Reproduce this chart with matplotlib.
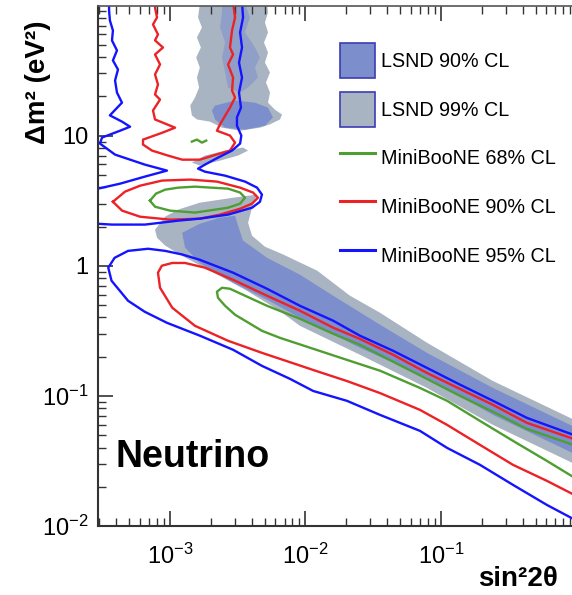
import numpy as np
import matplotlib
matplotlib.use("Agg")
import matplotlib.pyplot as plt
from matplotlib.patches import Patch
from matplotlib.lines import Line2D
from matplotlib.ticker import LogLocator, FuncFormatter, NullFormatter

plt.rcParams['font.family'] = ['Liberation Sans', 'DejaVu Sans']
plt.rcParams['mathtext.fontset'] = 'custom'
plt.rcParams['mathtext.rm'] = 'Liberation Sans'
plt.rcParams['mathtext.default'] = 'regular'

# colours
c_lsnd90 = '#7d8ecd'
c_lsnd99 = '#a9b4c2'
c_green = '#4f9e32'
c_red = '#ec2226'
c_blue = '#1414ff'

# ---- LSND allowed regions (sin^2 2theta, dm^2) ----
# 99% CL main band
lsnd99_band_x = [7.75e-4, 9.19e-4, 1.15e-3, 1.66e-3, 2.92e-3, 4.39e-3, 4.03e-3, 3.77e-3,
                 4.03e-3, 5.02e-3, 6.83e-3, 1.22e-2, 2.13e-2, 3.55e-2, 7.88e-2, 0.242, 1.0,
                 1.0, 0.242, 0.0788, 0.0252, 9.10e-3, 6.27e-3, 3.58e-3, 2.04e-3, 1.23e-3,
                 9.19e-4, 8.02e-4]
lsnd99_band_y = [1.89, 2.38, 2.70, 3.05, 3.33, 3.52, 2.79, 2.14,
                 1.70, 1.40, 1.22, 0.916, 0.588, 0.435, 0.256, 0.130, 0.0642,
                 0.0295, 0.0598, 0.115, 0.207, 0.345, 0.459, 0.654, 0.899, 1.19,
                 1.43, 1.64]
# 99% CL high dm^2 island
lsnd99_top_x = [1.66e-3, 1.61e-3, 1.72e-3, 1.58e-3, 1.69e-3, 1.56e-3, 1.66e-3, 1.58e-3,
                1.64e-3, 1.53e-3, 1.41e-3, 1.45e-3, 1.58e-3, 1.97e-3, 2.42e-3, 3.29e-3,
                4.61e-3, 5.47e-3, 6.48e-3, 6.72e-3, 5.95e-3, 5.29e-3, 5.47e-3, 5.11e-3,
                5.47e-3, 5.02e-3, 5.29e-3, 4.94e-3, 5.29e-3, 5.02e-3, 5.29e-3, 5.20e-3]
lsnd99_top_y = [102, 80.9, 67.7, 56.7, 47.5, 39.8, 33.3, 27.9,
                23.4, 19.6, 17.0, 14.3, 13.3, 12.8, 11.5, 10.9,
                11.5, 12.2, 13.3, 14.5, 15.8, 17.9, 21.4, 25.6,
                30.5, 36.4, 43.5, 51.9, 62.0, 74.0, 88.3, 102]
# 99% CL small wedge near 7 eV^2
lsnd99_wedge_x = [1.45e-3, 1.81e-3, 2.55e-3, 3.46e-3, 3.77e-3, 3.18e-3, 2.34e-3, 1.66e-3]
lsnd99_wedge_y = [6.20, 7.02, 7.67, 8.09, 7.67, 7.02, 6.42, 5.88]

# 90% CL main band
lsnd90_band_x = [1.23e-3, 1.66e-3, 2.34e-3, 3.02e-3, 3.18e-3, 3.46e-3, 5.20e-3, 9.10e-3,
                 1.60e-2, 3.55e-2, 7.88e-2, 0.242, 1.0,
                 1.0, 0.242, 0.0788, 0.0252, 9.10e-3, 5.20e-3, 2.92e-3, 1.66e-3, 1.29e-3]
lsnd90_band_y = [1.79, 2.10, 2.34, 2.42, 2.03, 1.56, 1.15, 0.853,
                 0.588, 0.352, 0.214, 0.115, 0.0567,
                 0.0352, 0.0714, 0.138, 0.234, 0.398, 0.548, 0.740, 1.05, 1.38]
# 90% CL island around 15 eV^2
lsnd90_blob_x = [2.15e-3, 3.02e-3, 4.24e-3, 5.29e-3, 5.75e-3, 5.02e-3, 3.58e-3, 2.55e-3,
                 2.15e-3, 2.04e-3]
lsnd90_blob_y = [17.0, 18.6, 17.9, 16.4, 13.8, 11.9, 11.1, 11.5, 13.3, 15.6]
# 90% CL streaks at the top
lsnd90_top_x = [2.42e-3, 3.58e-3, 3.89e-3, 3.58e-3, 4.24e-3, 4.61e-3, 4.24e-3, 4.46e-3,
                3.77e-3, 3.29e-3, 2.68e-3, 2.55e-3, 2.42e-3, 2.55e-3, 2.34e-3, 2.42e-3]
lsnd90_top_y = [102, 102, 80.9, 62.0, 47.5, 39.8, 33.3, 27.9,
                23.4, 21.4, 23.4, 30.5, 39.8, 51.9, 67.7, 88.3]

# ---- MiniBooNE contours ----
# 68% CL
mb68_low_x = [1.0, 0.431, 0.242, 0.138, 0.0788, 0.0443, 0.0252, 0.0160, 9.10e-3, 5.20e-3,
              3.58e-3, 2.77e-3, 2.42e-3, 2.22e-3, 2.26e-3, 2.55e-3, 3.02e-3, 4.77e-3,
              6.48e-3, 0.0114, 0.0202, 0.0355, 0.0700, 0.111, 0.194, 0.340, 0.606, 1.0]
mb68_low_y = [0.0412, 0.0557, 0.0754, 0.100, 0.135, 0.183, 0.247, 0.300, 0.391, 0.492,
              0.588, 0.665, 0.677, 0.631, 0.567, 0.492, 0.420, 0.316,
              0.279, 0.230, 0.189, 0.156, 0.115, 0.0916, 0.0642, 0.0451, 0.0316, 0.0230]
mb68_mid_x = [7.11e-4, 7.88e-4, 9.20e-4, 1.15e-3, 1.53e-3, 2.68e-3, 3.29e-3, 3.58e-3,
              3.29e-3, 2.68e-3, 1.53e-3, 1.00e-3, 7.75e-4, 7.11e-4]
mb68_mid_y = [3.16, 3.58, 3.84, 3.98, 4.05, 3.91, 3.65, 3.33,
              3.00, 2.79, 2.56, 2.65, 2.84, 3.16]
mb68_dot_x = [1.45e-3, 1.58e-3, 1.72e-3, 1.85e-3]
mb68_dot_y = [8.99, 9.31, 8.83, 9.15]

# 90% CL
mb90_low_x = [1.0, 0.431, 0.242, 0.138, 0.0788, 0.0443, 0.0252, 0.0160, 9.10e-3, 5.20e-3,
              3.02e-3, 1.81e-3, 1.29e-3, 1.04e-3, 8.70e-4, 8.15e-4, 8.44e-4, 1.04e-3,
              1.53e-3, 2.68e-3, 4.77e-3, 8.38e-3, 0.0114, 0.0202, 0.0355, 0.0700, 0.111,
              0.194, 0.340, 0.606, 1.0]
mb90_low_y = [0.0459, 0.0620, 0.0853, 0.113, 0.150, 0.207, 0.274, 0.334, 0.451, 0.588,
              0.767, 0.966, 1.05, 1.05, 1.00, 0.884, 0.677, 0.475,
              0.345, 0.265, 0.214, 0.176, 0.158, 0.130, 0.105, 0.0780, 0.0598,
              0.0420, 0.0295, 0.0222, 0.0170]
mb90_mid_x = [3.79e-4, 4.66e-4, 6.01e-4, 8.73e-4, 1.41e-3, 2.22e-3, 3.29e-3, 4.10e-3,
              4.46e-3, 4.03e-3, 3.29e-3, 2.34e-3, 1.66e-3, 1.00e-3, 6.01e-4, 4.43e-4, 3.79e-4]
mb90_mid_y = [3.10, 3.71, 4.12, 4.51, 4.59, 4.43, 3.98, 3.65,
              3.33, 3.00, 2.74, 2.47, 2.30, 2.26, 2.38, 2.65, 3.10]
mb90_top_x = [8.02e-4, 7.75e-4, 8.02e-4, 7.49e-4, 8.15e-4, 7.75e-4, 8.88e-4, 7.75e-4,
              8.44e-4, 7.75e-4, 8.15e-4, 7.75e-4, 8.44e-4, 7.49e-4, 7.75e-4, 1.09e-3,
              8.73e-4, 6.32e-4, 6.32e-4, 7.36e-4, 9.66e-4, 1.23e-3, 1.66e-3, 2.08e-3,
              2.77e-3, 3.02e-3, 2.77e-3, 2.22e-3, 2.34e-3, 2.77e-3, 3.02e-3, 2.87e-3,
              2.92e-3, 2.68e-3, 2.92e-3, 2.77e-3, 2.87e-3, 3.02e-3, 2.92e-3]
mb90_top_y = [105, 96.5, 80.9, 71.4, 59.8, 53.9, 47.5, 42.0,
              35.2, 29.5, 24.7, 20.7, 18.9, 15.6, 13.3, 11.5,
              10.5, 9.31, 8.53, 7.67, 7.02, 6.53, 6.53, 7.02,
              7.67, 8.83, 10.0, 10.9, 12.2, 16.4, 19.6, 22.2,
              27.9, 35.2, 42.0, 47.5, 64.2, 80.9, 105]

# 95% CL
mb95_low_x = [1.0, 0.431, 0.242, 0.138, 0.0788, 0.0443, 0.0252, 0.0160, 9.10e-3, 5.20e-3,
              2.92e-3, 1.66e-3, 1.23e-3, 9.20e-4, 6.90e-4, 4.90e-4, 3.90e-4, 3.50e-4,
              3.70e-4, 4.90e-4, 6.50e-4, 9.50e-4, 1.66e-3, 2.92e-3, 4.77e-3, 7.69e-3,
              0.0114, 0.0202, 0.0355, 0.0700, 0.111, 0.194, 0.340, 0.606, 1.0]
mb95_low_y = [0.0492, 0.0677, 0.0916, 0.122, 0.164, 0.222, 0.290, 0.378, 0.492, 0.665,
              0.884, 1.11, 1.22, 1.30, 1.35, 1.30, 1.15, 0.966,
              0.767, 0.538, 0.443, 0.364, 0.290, 0.226, 0.170, 0.135,
              0.109, 0.0916, 0.0714, 0.0538, 0.0398, 0.0295, 0.0207, 0.0145, 0.0110]
mb95_right_x = [2.94e-4, 3.73e-4, 6.53e-4, 1.15e-3, 1.66e-3, 2.68e-3, 4.03e-3, 4.61e-3,
                4.77e-3, 4.39e-3, 3.58e-3, 2.55e-3, 1.81e-3, 1.61e-3, 1.81e-3, 2.26e-3,
                2.87e-3, 3.29e-3, 3.36e-3, 3.12e-3, 3.12e-3, 3.34e-3, 3.23e-3, 3.40e-3,
                3.23e-3, 3.40e-3, 3.29e-3, 3.46e-3, 3.40e-3]
mb95_right_y = [2.10, 2.07, 2.07, 2.22, 2.30, 2.47, 2.79, 3.10,
                3.52, 3.98, 4.43, 4.92, 5.28, 5.57, 5.98, 6.77,
                7.67, 8.68, 10.0, 11.9, 13.8, 16.4, 21.4, 27.9,
                36.4, 47.5, 62.0, 80.9, 105]
mb95_left_x = [2.94e-4, 4.28e-4, 6.53e-4, 9.50e-4, 6.53e-4, 3.93e-4, 3.04e-4, 3.15e-4,
               4.28e-4, 5.07e-4, 4.42e-4, 3.60e-4, 4.42e-4, 4.06e-4, 3.93e-4, 4.13e-4,
               3.79e-4, 4.06e-4, 3.73e-4, 3.79e-4, 3.60e-4, 3.55e-4, 3.55e-4]
mb95_left_y = [3.91, 4.27, 4.84, 5.38, 5.98, 7.14, 8.68, 9.66,
               10.9, 11.7, 12.8, 14.3, 17.9, 21.4, 26.5, 32.2,
               37.8, 45.1, 53.8, 64.2, 76.7, 91.5, 105]

legend_labels = ['LSND 90% CL', 'LSND 99% CL', 'MiniBooNE 68% CL',
                 'MiniBooNE 90% CL', 'MiniBooNE 95% CL']

fig = plt.figure(figsize=(5.72, 5.95), dpi=100)
ax = fig.add_axes([0.1713, 0.1160, 0.8287, 0.8739])
ax.set_xscale('log')
ax.set_yscale('log')

# LSND regions
for xs, ys in [(lsnd99_band_x, lsnd99_band_y), (lsnd99_top_x, lsnd99_top_y),
               (lsnd99_wedge_x, lsnd99_wedge_y)]:
    ax.fill(xs, ys, color=c_lsnd99, lw=0)
ax.fill(lsnd90_band_x, lsnd90_band_y, color=c_lsnd90, lw=0)
ax.fill(lsnd90_blob_x, lsnd90_blob_y, color=c_lsnd90, lw=0)
ax.fill(lsnd90_top_x, lsnd90_top_y, color=c_lsnd90, lw=0, alpha=0.55)

# MiniBooNE contours
lw = 1.7
for xs, ys in [(mb68_low_x, mb68_low_y), (mb68_mid_x, mb68_mid_y), (mb68_dot_x, mb68_dot_y)]:
    ax.plot(xs, ys, color=c_green, lw=lw)
for xs, ys in [(mb90_low_x, mb90_low_y), (mb90_mid_x, mb90_mid_y), (mb90_top_x, mb90_top_y)]:
    ax.plot(xs, ys, color=c_red, lw=lw)
for xs, ys in [(mb95_low_x, mb95_low_y), (mb95_right_x, mb95_right_y), (mb95_left_x, mb95_left_y)]:
    ax.plot(xs, ys, color=c_blue, lw=lw)

ax.set_xlim(2.94e-4, 0.927)
ax.set_ylim(0.01, 99)

def log_label(v, pos):
    e = int(round(np.log10(v)))
    if e == 0:
        return '1'
    if e == 1:
        return '10'
    return '$10^{%d}$' % e

for axis in (ax.xaxis, ax.yaxis):
    axis.set_major_locator(LogLocator(base=10))
    axis.set_minor_locator(LogLocator(base=10, subs=np.arange(2, 10)))
    axis.set_minor_formatter(NullFormatter())
    axis.set_major_formatter(FuncFormatter(log_label))

ax.tick_params(which='both', direction='in', top=True, right=False,
               labelsize=17, color='#333333')
ax.tick_params(which='major', length=11, width=1.2)
ax.tick_params(which='minor', length=5.5, width=1.0)
ax.tick_params(axis='x', pad=13)
ax.tick_params(axis='y', pad=7)

ax.spines['right'].set_visible(False)
for s in ('left', 'bottom'):
    ax.spines[s].set_linewidth(1.5)
    ax.spines[s].set_color('#333333')
ax.spines['top'].set_linewidth(1.2)
ax.spines['top'].set_color('#555555')

fig.text(115 / 572, 1 - 467 / 595, 'Neutrino', fontsize=27, fontweight='bold',
         ha='left', va='baseline')
fig.text(38 / 572, 1 - 82 / 595, 'Δm² (eV²)', rotation=90, fontsize=20,
         fontweight='bold', ha='center', va='center')
fig.text(518 / 572, 1 - 579 / 595, 'sin²2θ', fontsize=20, fontweight='bold',
         ha='center', va='center')

handles = [Patch(facecolor=c_lsnd90, edgecolor='#3c3cb4', lw=1.2),
           Patch(facecolor=c_lsnd99, edgecolor='#3c3cb4', lw=1.2),
           Line2D([], [], color=c_green, lw=2.2),
           Line2D([], [], color=c_red, lw=2.2),
           Line2D([], [], color=c_blue, lw=2.2)]
ax.legend(handles, legend_labels, loc='upper left',
          bbox_to_anchor=(340 / 572, 1 - 43 / 595), bbox_transform=fig.transFigure,
          frameon=False, fontsize=14.2, handlelength=1.75, handleheight=2.36,
          handletextpad=0.35, labelspacing=0.7, borderpad=0, borderaxespad=0)

fig.savefig('out.png', dpi=100)
